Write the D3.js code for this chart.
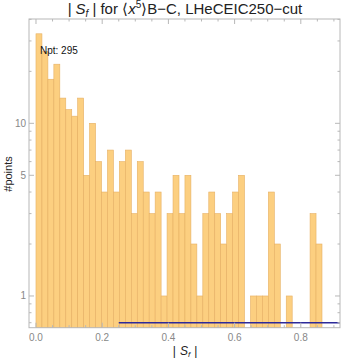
<!DOCTYPE html>
<html>
<head>
<meta charset="utf-8">
<script src="https://cdn.jsdelivr.net/npm/d3@7"></script>
<style>
  body { margin: 0; background: #fff; }
  svg { display: block; font-family: "Liberation Sans", Arial, sans-serif; }
</style>
</head>
<body>
<svg id="chart"></svg>
<script>
// histogram data
const binWidth = 0.018;
const counts = [33, 26, 18, 22, 14, 12, 11, 14, 5, 10, 6, 4, 7, 4,
                6, 7, 3, 6, 4, 3, 4, 1, 3, 5, 3, 5, 2, 1,
                3, 4, 3, 2, 3, 4, 5, 0, 1, 1, 1, 4, 2, 0, 1, 0, 0, 0, 3, 2];
const xTicks = [0, 0.2, 0.4, 0.6, 0.8];
const yTicks = [1, 5, 10];
const yMinor = [0.7, 0.8, 0.9, 2, 3, 4, 6, 7, 8, 9, 20, 30, 40];
const refLine = { x0: 0.25, x1: 0.95, y: 0.7 };
const npt = 295;

const width = 342;
const height = 360;
const pL = 29, pR = 340, pT = 19, pB = 327.7;

const svg = d3.select("#chart")
  .attr("width", width)
  .attr("height", height);

const xScale = d3.scaleLinear()
  .domain([-0.0211, 0.9184])
  .range([pL, pR]);

const yScale = d3.scaleLog()
  .domain([0.655, 40.2])
  .range([pB, pT]);

const bins = counts.map((c, i) => ({ x0: i * binWidth, x1: (i + 1) * binWidth, n: c }))
  .filter(d => d.n > 0);

// clip to plot area
svg.append("clipPath").attr("id", "clip")
  .append("rect")
  .attr("x", pL).attr("y", pT)
  .attr("width", pR - pL).attr("height", pB - pT);

const plot = svg.append("g").attr("clip-path", "url(#clip)");

plot.selectAll("rect.bar")
  .data(bins)
  .enter()
  .append("rect")
  .attr("class", "bar")
  .attr("x", d => xScale(d.x0))
  .attr("width", d => xScale(d.x1) - xScale(d.x0))
  .attr("y", d => yScale(d.n))
  .attr("height", d => pB - yScale(d.n))
  .attr("fill", "#fccf80")
  .attr("stroke", "#e6b063")
  .attr("stroke-width", 0.6);

plot.append("line")
  .attr("x1", xScale(refLine.x0))
  .attr("x2", xScale(refLine.x1))
  .attr("y1", yScale(refLine.y))
  .attr("y2", yScale(refLine.y))
  .attr("stroke", "#2d2a9a")
  .attr("stroke-width", 1.6);

// frame
svg.append("rect")
  .attr("x", pL).attr("y", pT)
  .attr("width", pR - pL).attr("height", pB - pT)
  .attr("fill", "none")
  .attr("stroke", "#b8b8b8")
  .attr("stroke-width", 1);

// ticks (inward) on all four sides
const xMinor = d3.range(0, 0.95, 0.05).filter(v => xTicks.every(t => Math.abs(t - v) > 1e-6));
const tickG = svg.append("g").attr("stroke", "#b8b8b8").attr("stroke-width", 1);
xTicks.forEach(v => {
  tickG.append("line").attr("x1", xScale(v)).attr("x2", xScale(v)).attr("y1", pB).attr("y2", pB - 5);
  tickG.append("line").attr("x1", xScale(v)).attr("x2", xScale(v)).attr("y1", pT).attr("y2", pT + 5);
});
xMinor.forEach(v => {
  tickG.append("line").attr("x1", xScale(v)).attr("x2", xScale(v)).attr("y1", pB).attr("y2", pB - 2.5);
  tickG.append("line").attr("x1", xScale(v)).attr("x2", xScale(v)).attr("y1", pT).attr("y2", pT + 2.5);
});
yTicks.forEach(v => {
  tickG.append("line").attr("y1", yScale(v)).attr("y2", yScale(v)).attr("x1", pL).attr("x2", pL + 5);
  tickG.append("line").attr("y1", yScale(v)).attr("y2", yScale(v)).attr("x1", pR).attr("x2", pR - 5);
});
yMinor.forEach(v => {
  tickG.append("line").attr("y1", yScale(v)).attr("y2", yScale(v)).attr("x1", pL).attr("x2", pL + 2.5);
  tickG.append("line").attr("y1", yScale(v)).attr("y2", yScale(v)).attr("x1", pR).attr("x2", pR - 2.5);
});

// tick labels
svg.append("g").selectAll("text")
  .data(xTicks)
  .enter()
  .append("text")
  .attr("x", d => xScale(d))
  .attr("y", pB + 13)
  .attr("text-anchor", "middle")
  .attr("font-size", 10)
  .attr("fill", "#888")
  .text(d => d3.format(".1f")(d));

svg.append("g").selectAll("text")
  .data(yTicks)
  .enter()
  .append("text")
  .attr("x", pL - 3)
  .attr("y", d => yScale(d) + 3.5)
  .attr("text-anchor", "end")
  .attr("font-size", 10)
  .attr("fill", "#888")
  .text(d => d);

// axis labels
svg.append("text")
  .attr("transform", "translate(12," + 174 + ") rotate(-90)")
  .attr("text-anchor", "middle")
  .attr("font-size", 11)
  .attr("fill", "#222")
  .text("#points");

const xl = svg.append("text")
  .attr("x", 185)
  .attr("y", 355)
  .attr("text-anchor", "middle")
  .attr("font-size", 12)
  .attr("fill", "#222");
xl.append("tspan").text("|");
xl.append("tspan").attr("dx", 4).attr("font-style", "italic").text("S");
xl.append("tspan").attr("font-style", "italic").attr("font-size", 8).attr("dy", 2).text("f");
xl.append("tspan").attr("dx", 4).attr("dy", -2).text("|");

// title
const title = svg.append("text")
  .attr("x", 185)
  .attr("y", 14)
  .attr("text-anchor", "middle")
  .attr("font-size", 15)
  .attr("fill", "#222");
title.append("tspan").text("|");
title.append("tspan").attr("dx", 4).attr("font-style", "italic").text("S");
title.append("tspan").attr("font-style", "italic").attr("font-size", 10).attr("dy", 3).text("f");
title.append("tspan").attr("dx", 4).attr("dy", -3).text("| for \u27e8");
title.append("tspan").attr("font-style", "italic").text("x");
title.append("tspan").attr("font-size", 10).attr("dy", -6).text("5");
title.append("tspan").attr("dy", 6).text("\u27e9B\u2212C, LHeCEIC250\u2212cut");

// point count
svg.append("text")
  .attr("x", 40)
  .attr("y", 54)
  .attr("font-size", 10)
  .attr("fill", "#111")
  .text("Npt: " + npt);
</script>
</body>
</html>
